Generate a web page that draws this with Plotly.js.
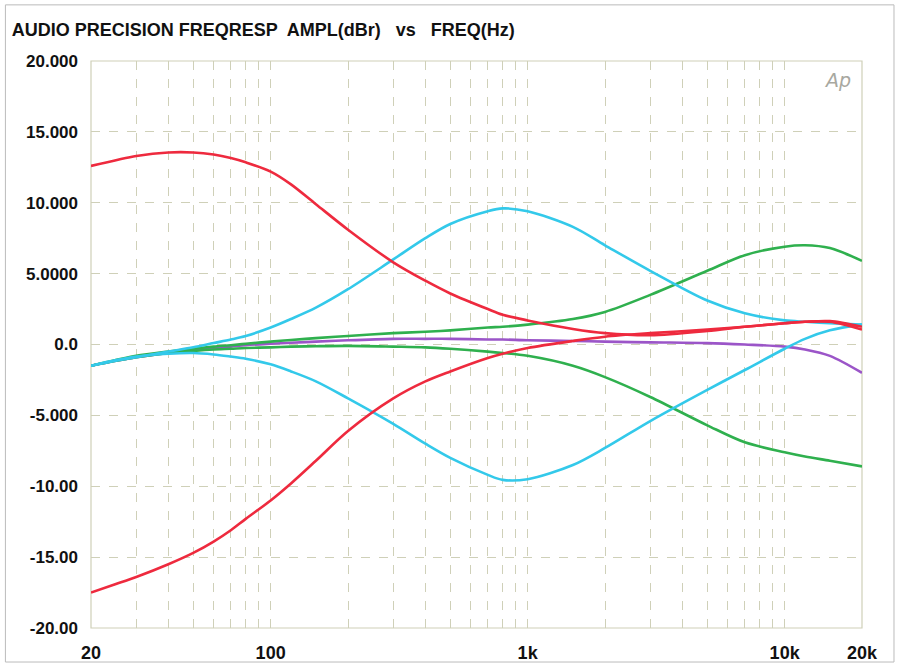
<!DOCTYPE html>
<html><head><meta charset="utf-8">
<script src="https://cdn.plot.ly/plotly-3.0.1.min.js"></script>
<style>html,body{margin:0;padding:0;background:#fff}#c{width:899px;height:666px}</style>
</head><body><div id="c"></div>
<script>
const freq = [20,25,30,40,50,60,70,80,100,120,150,200,300,400,500,700,800,1000,1500,2000,3000,5000,7000,10000,12000,15000,20000];
const redBoost = [12.6,13.0,13.3,13.55,13.55,13.4,13.15,12.85,12.2,11.3,9.9,8.1,5.8,4.5,3.6,2.5,2.1,1.7,1.1,0.8,0.65,0.95,1.25,1.5,1.6,1.6,1.05];
const redCut = [-17.5,-16.9,-16.4,-15.5,-14.7,-13.9,-13.1,-12.3,-11.0,-9.8,-8.2,-6.1,-3.8,-2.6,-1.9,-0.95,-0.65,-0.25,0.25,0.55,0.8,1.05,1.25,1.5,1.6,1.65,1.25];
const cyanBoost = [-1.5,-1.15,-0.9,-0.5,-0.2,0.1,0.35,0.6,1.2,1.8,2.6,3.9,6.0,7.5,8.5,9.4,9.6,9.4,8.3,7.0,5.2,3.1,2.2,1.7,1.6,1.5,1.4];
const cyanCut = [-1.5,-1.1,-0.85,-0.65,-0.6,-0.7,-0.85,-1.0,-1.4,-1.9,-2.6,-3.8,-5.6,-7.0,-8.0,-9.2,-9.55,-9.5,-8.5,-7.3,-5.4,-3.2,-1.8,-0.3,0.4,1.0,1.4];
const greenBoost = [-1.5,-1.1,-0.8,-0.5,-0.3,-0.15,-0.05,0.05,0.2,0.32,0.45,0.6,0.8,0.9,1.0,1.2,1.25,1.4,1.8,2.3,3.5,5.2,6.3,6.9,7.0,6.8,5.9];
const greenCut = [-1.5,-1.15,-0.9,-0.6,-0.45,-0.35,-0.3,-0.25,-0.2,-0.15,-0.12,-0.1,-0.15,-0.2,-0.3,-0.5,-0.6,-0.8,-1.5,-2.3,-3.7,-5.7,-6.9,-7.6,-7.9,-8.2,-8.6];
const purple = [-1.5,-1.15,-0.9,-0.6,-0.4,-0.25,-0.15,-0.05,0.05,0.12,0.2,0.3,0.4,0.4,0.4,0.35,0.35,0.3,0.25,0.2,0.15,0.1,0.0,-0.15,-0.35,-0.8,-2.0];

const xTickVals = [20,30,40,50,60,70,80,90,100,200,300,400,500,600,700,800,900,1000,2000,3000,4000,5000,6000,7000,8000,9000,10000,20000];
const xLabels = {20:'20',100:'100',1000:'1k',10000:'10k',20000:'20k'};
const yTickVals = [20,15,10,5,0,-5,-10,-15,-20];
const yTickText = ['20.000','15.000','10.000','5.0000','0.0','-5.000','-10.00','-15.00','-20.00'];

const series = [
  {y: purple, c: '#9b55c8'},
  {y: greenCut, c: '#2fb04e'},
  {y: greenBoost, c: '#2fb04e'},
  {y: cyanCut, c: '#33c9ea'},
  {y: cyanBoost, c: '#33c9ea'},
  {y: redCut, c: '#ee2a3e'},
  {y: redBoost, c: '#ee2a3e'}
];
const traces = series.map(s => ({x: freq, y: s.y, type: 'scatter', mode: 'lines',
  line: {color: s.c, width: 2.6, shape: 'spline', smoothing: 0.9}, hoverinfo: 'skip'}));

const F = '"Liberation Sans", Arial, sans-serif';
const gridC = '#cfd0b8';
const layout = {
  width: 899, height: 666,
  margin: {l: 91, r: 37, t: 61, b: 38},
  paper_bgcolor: '#fff', plot_bgcolor: '#fff',
  showlegend: false,
  title: {text: '<b>AUDIO PRECISION FREQRESP  AMPL(dBr)   vs   FREQ(Hz)</b>', x: 0.013, xanchor: 'left', y: 0.955, yanchor: 'middle',
    font: {family: F, size: 18, color: '#111'}},
  xaxis: {type: 'log', range: [Math.log10(20), Math.log10(20000)], tickvals: xTickVals,
    ticktext: xTickVals.map(v => xLabels[v] ? '<b>' + xLabels[v] + '</b>' : ''),
    showgrid: true, gridcolor: gridC, griddash: 'dash', gridwidth: 1, zeroline: false, ticks: '',
    ticklabelstandoff: 12, tickfont: {family: F, size: 18, color: '#111'}, showline: false},
  yaxis: {range: [-20, 20], tickvals: yTickVals, ticktext: yTickText.map(t => '<b>' + t + '</b>'), showgrid: true, gridcolor: gridC,
    griddash: 'dash', gridwidth: 1, zeroline: false, ticks: '', ticklabelstandoff: 12,
    tickfont: {family: F, size: 17, color: '#111'}, showline: false},
  shapes: [
    {type: 'rect', xref: 'paper', yref: 'paper', x0: 0, x1: 1, y0: 0, y1: 1, line: {color: gridC, width: 1.2}, layer: 'below'},
    {type: 'rect', xref: 'paper', yref: 'paper', x0: -0.111, x1: 1.0415, y0: -0.06, y1: 1.099, line: {color: '#bbbbbb', width: 1}}
  ],
  annotations: [
    {text: '<i>Ap</i>', xref: 'paper', yref: 'paper', x: 0.968, y: 0.966, xanchor: 'center', yanchor: 'middle',
     showarrow: false, font: {family: '"DejaVu Sans", sans-serif', size: 19, color: '#a8a8a0'}}
  ]
};
Plotly.newPlot('c', traces, layout, {displayModeBar: false, staticPlot: true});
</script></body></html>
